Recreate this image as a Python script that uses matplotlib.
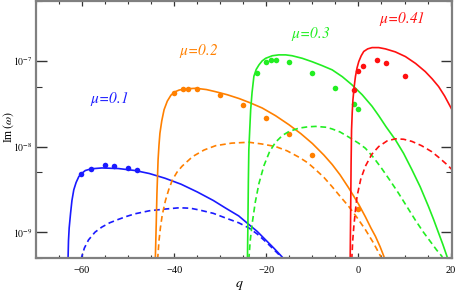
import matplotlib
matplotlib.use("Agg")
import numpy as np
import matplotlib.pyplot as plt
from matplotlib.ticker import MultipleLocator, FixedLocator, NullFormatter, FixedFormatter

plt.rcParams['font.family'] = ['Liberation Serif', 'DejaVu Serif']
plt.rcParams['mathtext.fontset'] = 'stix'

# ---- data (curves as log10 Im(omega)) ----
# mu = 0.1
blue_q = [-63.05, -62.95, -62.8, -62.5, -62.2, -61.8, -61.3, -60.7, -60.0, -59.3, -58.0,
          -55.7, -52.1, -48.5, -45.4, -42.0, -38.5, -35.0, -31.5, -28.8, -26.0, -23.8,
          -22.0, -20.15, -18.3, -16.55, -16.4]
blue_log = [-9.32, -9.10, -8.95, -8.78, -8.63, -8.505, -8.42, -8.35, -8.31, -8.28, -8.26,
            -8.25, -8.257, -8.28, -8.315, -8.37, -8.44, -8.53, -8.63, -8.72, -8.81, -8.91,
            -8.99, -9.09, -9.19, -9.29, -9.32]
blue_dq = [-60.25, -60.15, -59.5, -58.6, -57.2, -55.7, -54.0, -52.1, -50.3, -48.5, -45.4,
           -42.0, -38.9, -36.5, -34.6, -31.5, -28.8, -26.0, -23.8, -22.0, -20.15, -18.6,
           -17.3, -16.7]
blue_dlog = [-9.32, -9.30, -9.185, -9.09, -9.00, -8.94, -8.89, -8.85, -8.815, -8.785, -8.75,
             -8.73, -8.715, -8.72, -8.74, -8.78, -8.835, -8.89, -8.95, -9.02, -9.11, -9.19,
             -9.26, -9.32]
blue_pts_q = [-60.15, -58.05, -55.1, -53.1, -50.0, -48.1]
blue_pts_im = [4.8e-9, 5.5e-9, 6.1e-9, 5.85e-9, 5.6e-9, 5.3e-9]

# mu = 0.2
orange_q = [-44.1, -43.9, -43.75, -43.5, -43.3, -43.1, -42.7, -42.2, -41.5, -40.7, -39.8,
            -38.9, -37.0, -35.3, -33.0, -31.0, -28.5, -25.9, -23.5, -20.9, -18.0, -15.1,
            -12.5, -10.0, -7.5, -5.7, -4.0, -2.1, 0.0, 1.5, 2.7, 3.7, 4.7, 5.5, 5.7]
orange_log = [-9.32, -8.90, -8.55, -8.155, -7.98, -7.845, -7.70, -7.57, -7.47, -7.40, -7.36,
              -7.34, -7.325, -7.32, -7.335, -7.36, -7.395, -7.44, -7.49, -7.55, -7.64, -7.745,
              -7.85, -7.965, -8.10, -8.21, -8.33, -8.485, -8.67, -8.82, -8.95, -9.05, -9.17,
              -9.28, -9.32]
orange_dq = [-43.6, -43.3, -43.0, -42.6, -41.9, -41.2, -40.4, -39.4, -38.3, -36.0, -33.5,
             -31.0, -27.5, -23.8, -21.0, -18.0, -15.5, -12.9, -11.0, -9.3, -7.5, -5.7, -4.0,
             -2.1, -0.3, 1.5, 3.2, 4.8, 5.0]
orange_dlog = [-9.32, -9.10, -8.95, -8.80, -8.63, -8.505, -8.39, -8.30, -8.23, -8.117, -8.04,
               -7.99, -7.96, -7.95, -7.97, -8.00, -8.05, -8.125, -8.19, -8.27, -8.36, -8.47,
               -8.58, -8.70, -8.83, -8.97, -9.12, -9.28, -9.32]
orange_pts_q = [-40, -38, -37, -35, -30, -25, -20, -15, -10, 0]
orange_pts_im = [4.2e-8, 4.68e-8, 4.75e-8, 4.71e-8, 3.98e-8, 3.09e-8, 2.14e-8, 1.41e-8,
                 7.9e-9, 1.86e-9]

# mu = 0.3
green_q = [-24.1, -24.0, -23.9, -23.8, -23.6, -23.4, -23.1, -22.7, -22.2, -21.6, -20.9,
           -20.15, -18.7, -17.3, -15.8, -14.4, -12.2, -10.05, -7.9, -5.7, -3.5, -1.4, 0.8,
           2.95, 4.4, 6.0, 8.0, 9.8, 11.6, 13.4, 15.2, 16.3, 17.4, 18.3, 19.2, 19.4]
green_log = [-9.32, -8.90, -8.40, -8.04, -7.80, -7.57, -7.37, -7.18, -7.10, -7.047, -7.00,
             -6.97, -6.94, -6.93, -6.93, -6.94, -6.97, -7.01, -7.055, -7.105, -7.185, -7.28,
             -7.395, -7.53, -7.64, -7.77, -7.92, -8.08, -8.27, -8.47, -8.70, -8.85, -9.01,
             -9.14, -9.28, -9.32]
green_dq = [-23.8, -23.5, -23.05, -22.4, -21.6, -20.5, -19.3, -18.0, -16.5, -15.1, -12.9,
            -11.0, -9.3, -7.0, -5.7, -4.0, -2.1, 0.0, 1.5, 3.3, 5.1, 6.9, 8.7, 10.5, 12.3,
            14.1, 15.9, 17.0, 18.1, 18.3]
green_dlog = [-9.32, -9.10, -8.89, -8.65, -8.43, -8.22, -8.06, -7.95, -7.87, -7.825, -7.785,
              -7.77, -7.765, -7.775, -7.795, -7.83, -7.89, -7.96, -8.02, -8.13, -8.26, -8.40,
              -8.545, -8.70, -8.855, -9.00, -9.13, -9.21, -9.28, -9.32]
green_pts_q = [-22, -20, -19, -18, -15, -10, -5, -1, 0]
green_pts_im = [7.24e-8, 9.66e-8, 1.02e-7, 1.035e-7, 9.66e-8, 7.24e-8, 4.79e-8, 3.13e-8,
                2.75e-8]

# mu = 0.41
red_q = [-1.8, -1.7, -1.6, -1.5, -1.35, -1.2, -0.95, -0.65, -0.3, 0.07, 0.6, 1.15, 2.0,
         2.95, 4.4, 5.85, 8.0, 10.2, 12.4, 14.5, 16.0, 17.4, 18.7, 19.9, 20.5]
red_log = [-9.32, -8.80, -8.20, -7.805, -7.60, -7.455, -7.31, -7.18, -7.08, -7.008, -6.94,
           -6.89, -6.86, -6.845, -6.845, -6.86, -6.895, -6.95, -7.03, -7.125, -7.21, -7.30,
           -7.41, -7.53, -7.59]
red_dq = [-1.45, -1.25, -1.0, -0.65, -0.3, 0.5, 1.5, 2.9, 4.4, 6.2, 8.0, 9.8, 11.6, 13.7,
          15.9, 17.5, 19.2, 20.5]
red_dlog = [-9.32, -9.10, -8.93, -8.74, -8.58, -8.38, -8.23, -8.09, -8.00, -7.935, -7.91,
            -7.915, -7.94, -7.99, -8.06, -8.13, -8.21, -8.28]
red_pts_q = [-1, 0, 1, 4, 6, 10]
red_pts_im = [4.57e-8, 7.6e-8, 8.8e-8, 1.02e-7, 9.5e-8, 6.6e-8]

labels = ["$\\mu$=0.1", "$\\mu$=0.2", "$\\mu$=0.3", "$\\mu$=0.41"]

colors = ["#1a1aff", "#ff8000", "#22ee22", "#ff1010"]

fig = plt.figure(figsize=(4.57, 2.93), dpi=100)
ax = fig.add_axes([0.0788, 0.1195, 0.9102, 0.8771])

series = [
    (blue_q, blue_log, blue_dq, blue_dlog, blue_pts_q, blue_pts_im),
    (orange_q, orange_log, orange_dq, orange_dlog, orange_pts_q, orange_pts_im),
    (green_q, green_log, green_dq, green_dlog, green_pts_q, green_pts_im),
    (red_q, red_log, red_dq, red_dlog, red_pts_q, red_pts_im),
]
for (q, lg, dq, dlg, pq, pim), c in zip(series, colors):
    ax.plot(q, np.power(10.0, lg), color=c, lw=1.2, solid_joinstyle='round')
    ax.plot(dq, np.power(10.0, dlg), color=c, lw=1.2, dashes=(3.5, 2.2))
    ax.plot(pq, pim, 'o', color=c, ms=4.0, mec='none')

label_pos = [(-54.0, 3.6e-8), (-34.8, 1.31e-7), (-10.45, 2.07e-7), (9.4, 3.09e-7)]
for lab, (x, y), c in zip(labels, label_pos, colors):
    ax.text(x, y, lab, color=c, fontsize=11, style='italic', ha='center', va='center',
            family='STIXGeneral')

ax.set_yscale('log')
ax.set_xlim(-70, 20.3)
ax.set_ylim(5.0e-10, 5.0e-7)

ax.xaxis.set_minor_locator(MultipleLocator(5))
ax.set_xticks([-60, -40, -20, 0, 20])
ax.set_xticklabels(["\u221260", "\u221240", "\u221220", "0", "20"])
ax.yaxis.set_major_locator(FixedLocator([1e-9, 1e-8, 1e-7]))
ax.yaxis.set_major_formatter(FixedFormatter(["$10^{-9}$", "$10^{-8}$", "$10^{-7}$"]))
ax.yaxis.set_minor_locator(FixedLocator([5e-10, 5e-9, 5e-8, 5e-7]))
ax.yaxis.set_minor_formatter(NullFormatter())

ax.tick_params(which='both', direction='in', top=True, right=True, colors='#333333',
               labelsize=7.5, labelcolor='black')
ax.tick_params(axis='y', which='major', length=8, width=1.0, labelsize=7, pad=2.5)
ax.tick_params(axis='y', which='minor', length=4, width=0.8)
ax.tick_params(axis='x', which='major', length=3.5, width=0.9, pad=6)
ax.tick_params(axis='x', which='minor', length=2.5, width=0.8)
for s in ax.spines.values():
    s.set_color('#808080')
    s.set_linewidth(1.6)

ax.set_xlabel("$q$", fontsize=10)
ax.set_ylabel("Im$\\,(\\omega)$", fontsize=8.5)
ax.xaxis.set_label_coords(0.49, -0.083)
ax.yaxis.set_label_coords(-0.047, 0.51)

fig.savefig("out.png", dpi=100)
